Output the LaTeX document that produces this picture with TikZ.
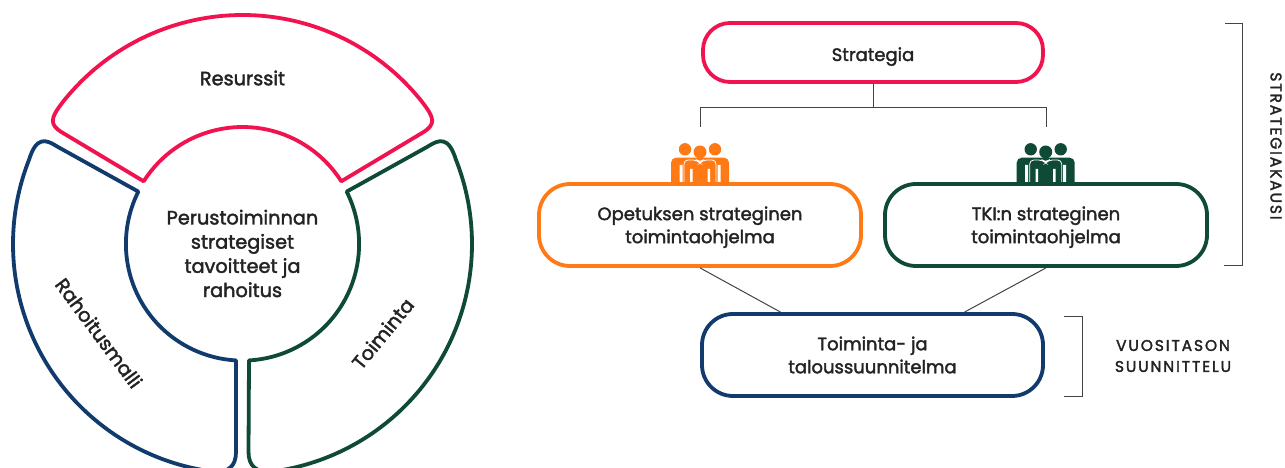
\documentclass[tikz,border=0pt]{standalone}
\usepackage{fontspec}
\setmainfont{Poppins}[FakeBold=2]
\definecolor{pinkC}{HTML}{F0134F}
\definecolor{blueC}{HTML}{123B6D}
\definecolor{greenC}{HTML}{0E4A36}
\definecolor{orangeC}{HTML}{FF7A14}
\definecolor{inkC}{HTML}{232323}
\tikzset{
  ring/.style={line width=3.8pt,line join=round,fill=white},
  boxN/.style={draw=#1,line width=3.8pt,rounded corners=31pt,fill=white,align=center,text=inkC,inner sep=0pt,
    font=\fontsize{18}{23}\selectfont},
  lbl/.style={text=inkC,align=center,inner sep=0pt,font=\fontsize{19.3}{24.2}\selectfont},
  caps/.style={text=inkC,align=center,inner sep=0pt,font=\fontsize{15.5}{21}\selectfont\addfontfeature{LetterSpace=12}},
  thin line/.style={draw=inkC!85,line width=1pt},
  pics/crowd/.style={code={
    \fill[#1] (14,34.7) circle[radius=6.2] (44,34.7) circle[radius=6.2] (29,32) circle[radius=6.5];
    \fill[#1] (0,0) [rounded corners=5pt] -- (0,26.3) -- (58,26.3) [sharp corners] -- (58,0) -- cycle;
    \draw[white,line width=0.8pt,rounded corners=4pt] (13,0) -- (13,24) -- (26,24) -- (29,21) -- (32,24) -- (45,24) -- (45,0);
    \fill[white] (8.5,1) rectangle (11.5,19) (46.5,1) rectangle (49.5,19)
                 (19,0) rectangle (21.5,15) (36.5,0) rectangle (39,15);
  }}
}
\begin{document}
\begin{tikzpicture}[x=1pt,y=1pt]
\useasboundingbox (0,0) rectangle (1285,468);
\clip (0,0) rectangle (1285,468);
\fill[white] (0,0) rectangle (1285,468);
\begin{scope}[shift={(242.5,224)}]
  \draw[ring,draw=pinkC] (147.6:117) arc[start angle=147.6,end angle=32.4,radius=117]
    -- (179.5,111) .. controls (194,119.5) and (192,126) .. (38.2:229)
    arc[start angle=38.2,end angle=141.8,radius=229]
    .. controls (-192,126) and (-194,119.5) .. (-179.5,111) -- cycle;
  \draw[ring,draw=blueC] (153.3:116.6) arc[start angle=153.3,end angle=266.8,radius=116.6]
    -- (-6.5,-208) .. controls (-6.5,-222) and (-14,-228.5) .. (263:229.5)
    arc[start angle=263,end angle=158.5,radius=229.5]
    .. controls (-206,108) and (-197,105) .. (-184.5,97) -- cycle;
  \draw[ring,draw=greenC] (26.7:116.6) arc[start angle=26.7,end angle=-86.8,radius=116.6]
    -- (6,-208) .. controls (6,-222) and (14,-228.5) .. (-83:229.5)
    arc[start angle=-83,end angle=21.5,radius=229.5]
    .. controls (206,108) and (197,105) .. (184.5,97) -- cycle;
\end{scope}
\node[lbl] (res) at (242.5,390) {Resurssit};
\node[lbl] (core) at (242.5,214.5) {Perustoiminnan\\strategiset\\tavoitteet ja\\rahoitus};
\node[lbl,rotate=-53.4] (rah) at (99,135) {Rahoitusmalli};
\node[lbl,rotate=50.5] (toi) at (382.7,134.5) {Toiminta};
\pic at (671,284) {crowd=orangeC};
\pic at (1016.7,284) {crowd=greenC};
\node[boxN=pinkC,minimum width=340pt,minimum height=59pt,rounded corners=27pt] (str) at (873,415.5) {\raisebox{-8.5pt}[0pt][0pt]{Strategia}};
\node[boxN=orangeC,minimum width=322pt,minimum height=82pt] (ope) at (700,243) {\rule{0pt}{18pt}Opetuksen strateginen\\toimintaohjelma};
\node[boxN=greenC,minimum width=322pt,minimum height=82pt] (tki) at (1046,243) {\rule{0pt}{18pt}TKI:n strateginen\\toimintaohjelma};
\node[boxN=blueC,minimum width=341pt,minimum height=82pt] (tal) at (872.5,113) {Toiminta- ja\\taloussuunnitelma};
\coordinate (jm) at (873,360);
\coordinate (jl) at (700,360);
\coordinate (jr) at (1046,360);
\coordinate (el) at (700,341);
\coordinate (er) at (1046,341);
\draw[thin line] (str.south) -- (jm);
\draw[thin line] (el) -- (jl) -- (jr) -- (er);
\draw[thin line] (ope.south) -- ([xshift=-92pt]tal.north);
\draw[thin line] (tki.south) -- ([xshift=92pt]tal.north);
\coordinate (b1) at (1225,444);
\coordinate (b2) at (1242,444);
\coordinate (b3) at (1242,202);
\coordinate (b4) at (1224,202);
\draw[thin line] (b1) -- (b2) -- (b3) -- (b4);
\coordinate (c1) at (1064,151);
\coordinate (c2) at (1082,151);
\coordinate (c3) at (1082,71);
\coordinate (c4) at (1064,71);
\draw[thin line] (c1) -- (c2) -- (c3) -- (c4);
\node[caps,rotate=-90] (kausi) at (1276,322) {STRATEGIAKAUSI};
\node[caps] (vuosi) at (1173,112) {VUOSITASON\\SUUNNITTELU};
\end{tikzpicture}
\end{document}
